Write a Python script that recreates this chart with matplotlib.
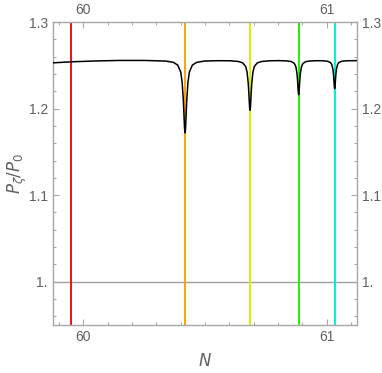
import matplotlib
matplotlib.use("Agg")
import matplotlib.pyplot as plt
from matplotlib.ticker import MultipleLocator, FixedLocator, FixedFormatter

# ---- data ----
N = [59.874, 59.95, 60.05, 60.15, 60.25,
     60.338, 60.370, 60.388, 60.400, 60.406, 60.4108, 60.4132, 60.4156, 60.4168, 60.418,
     60.4192, 60.4204, 60.4228, 60.4252, 60.430, 60.436, 60.448, 60.466, 60.498,
     60.55,
     60.605, 60.637, 60.655, 60.667, 60.673, 60.6778, 60.6802, 60.6826, 60.6838, 60.685,
     60.6862, 60.6874, 60.6898, 60.6922, 60.697, 60.703, 60.715, 60.733, 60.765,
     60.805, 60.837, 60.855, 60.867, 60.873, 60.8778, 60.8802, 60.8826, 60.8838, 60.885,
     60.8862, 60.8874, 60.8898, 60.8922, 60.897, 60.903, 60.915, 60.933,
     60.96,
     60.985, 61.003, 61.015, 61.021, 61.0258, 61.0282, 61.0306, 61.0318, 61.033,
     61.0342, 61.0354, 61.0378, 61.0402, 61.045, 61.051, 61.063, 61.081, 61.126]
P_ratio = [1.2528, 1.2540, 1.2550, 1.2556, 1.2556,
           1.2549, 1.2534, 1.2502, 1.2423, 1.2307, 1.2104, 1.1949, 1.1792, 1.1739, 1.1720,
           1.1739, 1.1792, 1.1949, 1.2104, 1.2307, 1.2423, 1.2502, 1.2534, 1.2549,
           1.2553,
           1.2552, 1.2544, 1.2528, 1.2487, 1.2421, 1.2292, 1.2179, 1.2047, 1.1998, 1.1980,
           1.1998, 1.2047, 1.2179, 1.2292, 1.2421, 1.2487, 1.2528, 1.2544, 1.2552,
           1.2554, 1.2550, 1.2543, 1.2522, 1.2489, 1.2413, 1.2334, 1.2225, 1.2179, 1.2160,
           1.2179, 1.2225, 1.2334, 1.2413, 1.2489, 1.2522, 1.2543, 1.2550,
           1.2553,
           1.2552, 1.2547, 1.2533, 1.2510, 1.2455, 1.2392, 1.2295, 1.2249, 1.2230,
           1.2249, 1.2295, 1.2392, 1.2455, 1.2510, 1.2533, 1.2547, 1.2552, 1.2554]
resonance_N = [59.949, 60.418, 60.685, 60.885, 61.033]
reference_level = 1.0
x_ticks = [60, 61]
x_ticklabels = ["60", "61"]
y_ticks = [1.0, 1.1, 1.2, 1.3]
y_ticklabels = ["1.", "1.1", "1.2", "1.3"]

# ---- style ----
line_colors = ["#f01010", "#ffa010", "#d8f000", "#20f000", "#00f0e0"]
frame_col = "#a8a8a8"
text_col = "#606060"

W, H = 382, 373
fig = plt.figure(figsize=(W / 100, H / 100), dpi=100)
ax = fig.add_axes([52.7 / W, 1 - 325 / H, (357.3 - 52.7) / W, (325 - 22) / H])

ax.axhline(reference_level, color="#a0a0a0", lw=1.0, zorder=1)
for xv, c in zip(resonance_N, line_colors):
    ax.axvline(xv, color=c, lw=1.4, zorder=2)
ax.plot(N, P_ratio, color="black", lw=1.1, zorder=3)

ax.set_xlim(59.874, 61.126)
ax.set_ylim(0.95, 1.3)

for s in ax.spines.values():
    s.set_color(frame_col)
    s.set_linewidth(1.0)

ax.xaxis.set_major_locator(FixedLocator(x_ticks))
ax.xaxis.set_major_formatter(FixedFormatter(x_ticklabels))
ax.xaxis.set_minor_locator(MultipleLocator(0.1))
ax.yaxis.set_major_locator(FixedLocator(y_ticks))
ax.yaxis.set_major_formatter(FixedFormatter(y_ticklabels))
ax.yaxis.set_minor_locator(MultipleLocator(0.02))

ax.tick_params(which="both", direction="in", color=frame_col,
               top=True, right=True, labeltop=True, labelright=True,
               labelsize=10, labelcolor=text_col, width=0.8)
ax.tick_params(which="major", length=4.5, pad=3.5)
ax.tick_params(which="minor", length=2.5)
for lab in ax.get_xticklabels() + ax.get_yticklabels():
    lab.set_family("Liberation Sans")

ax.set_xlabel(r"$N$", fontsize=12, color=text_col, labelpad=6)
ax.set_ylabel(r"$P_\zeta/P_0$", fontsize=12, color=text_col, labelpad=0)

fig.savefig("out.png", dpi=100)
